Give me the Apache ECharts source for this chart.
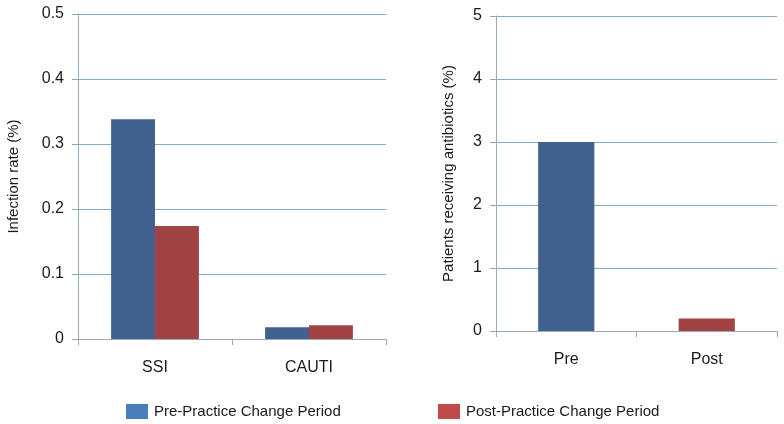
<!DOCTYPE html>
<html><head><meta charset="utf-8">
<script src="https://cdn.jsdelivr.net/npm/echarts@6/dist/echarts.min.js"></script>
<style>html,body{margin:0;padding:0;background:#fff}#c{width:784px;height:424px}</style>
</head><body><div id="c"></div>
<script>
const infectionCategories = ['SSI', 'CAUTI'];
const preInfection = [0.338, 0.018];
const postInfection = [0.174, 0.021];
const infectionTicks = [0, 0.1, 0.2, 0.3, 0.4, 0.5];
const antibioticCategories = ['Pre', 'Post'];
const antibioticValues = [3, 0.2];
const antibioticTicks = [0, 1, 2, 3, 4, 5];
const seriesNames = ['Pre-Practice Change Period', 'Post-Practice Change Period'];

const FONT = '"Liberation Sans", Arial, sans-serif';
const BLUE = '#41628f', RED = '#a14342';
const LBLUE = '#4a7dbb', LRED = '#be4b48';
const GRID = '#84aac8', AXIS = '#98aabb';

const chart = echarts.init(document.getElementById('c'));
const txt = {color: '#1a1a1a', fontFamily: FONT, fontSize: 16};
function yAx(gi, ticks, name, gap, lblFmt) {
  return {
    type: 'value', gridIndex: gi, min: ticks[0], max: ticks[ticks.length - 1],
    interval: ticks[1] - ticks[0],
    name: name, nameLocation: 'middle', nameGap: gap, nameRotate: 90,
    nameTextStyle: {color: '#1a1a1a', fontFamily: FONT, fontSize: 15},
    axisLine: {show: true, lineStyle: {color: AXIS, width: 1}},
    axisTick: {show: true, length: 6, lineStyle: {color: GRID}},
    splitLine: {show: true, lineStyle: {color: GRID, width: 1}},
    axisLabel: Object.assign({margin: 14, formatter: lblFmt}, txt)
  };
}
function xAx(gi, cats) {
  return {
    type: 'category', gridIndex: gi, data: cats,
    axisLine: {show: true, lineStyle: {color: AXIS, width: 1}},
    axisTick: {show: true, length: 6, alignWithLabel: false, lineStyle: {color: AXIS}},
    axisLabel: Object.assign({margin: 21}, txt)
  };
}
const legTxt = {color: '#1a1a1a', fontFamily: FONT, fontSize: 15, padding: [0, 0, 0, 1]};
chart.setOption({
  animation: false,
  legend: [
    {left: 121, top: 399, itemWidth: 22, itemHeight: 15, itemGap: 10,
     data: [{name: seriesNames[0], icon: 'rect', itemStyle: {color: LBLUE}}],
     textStyle: legTxt},
    {left: 433, top: 399, itemWidth: 22, itemHeight: 15, itemGap: 10,
     data: [{name: seriesNames[1], icon: 'rect', itemStyle: {color: LRED}}],
     textStyle: legTxt}
  ],
  grid: [
    {left: 78, top: 14, width: 308, bottom: 85},
    {left: 496, top: 16, width: 281, bottom: 93}
  ],
  xAxis: [xAx(0, infectionCategories), xAx(1, antibioticCategories)],
  yAxis: [
    yAx(0, infectionTicks, 'Infection rate (%)', 57, v => v === 0 ? '0' : v.toFixed(1)),
    yAx(1, antibioticTicks, 'Patients receiving antibiotics (%)', 40, v => String(v))
  ],
  series: [
    {name: seriesNames[0], type: 'bar', xAxisIndex: 0, yAxisIndex: 0, data: preInfection,
     itemStyle: {color: BLUE}, barGap: '0%', barCategoryGap: '43%'},
    {name: seriesNames[1], type: 'bar', xAxisIndex: 0, yAxisIndex: 0, data: postInfection,
     itemStyle: {color: RED}, barGap: '0%', barCategoryGap: '43%'},
    {name: 'Antibiotics', type: 'bar', xAxisIndex: 1, yAxisIndex: 1, data: antibioticValues,
     barWidth: '40%',
     itemStyle: {color: p => p.dataIndex === 0 ? BLUE : RED}}
  ]
});
</script></body></html>
